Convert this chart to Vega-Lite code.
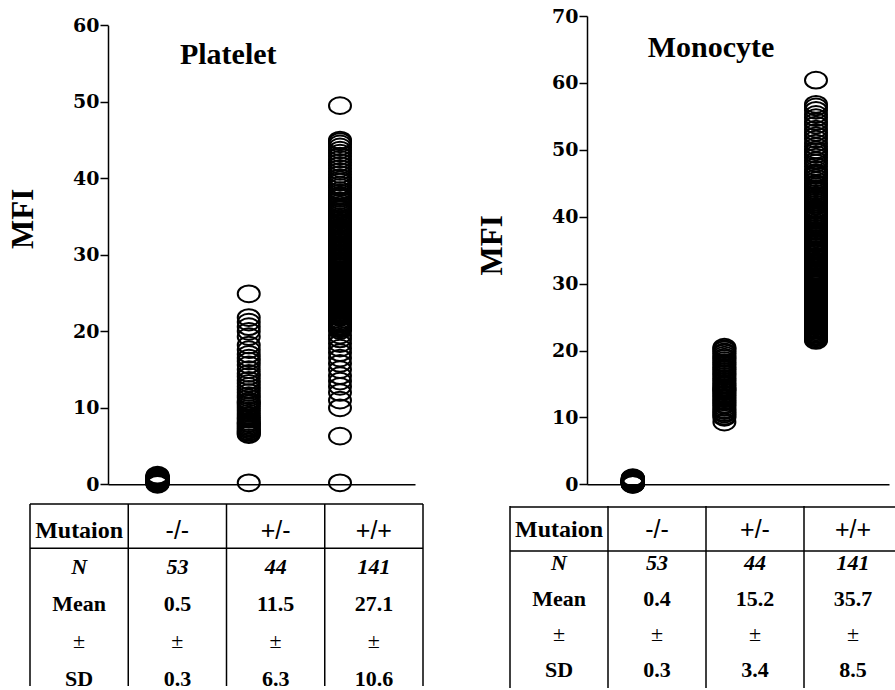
{
"$schema": "https://vega.github.io/schema/vega-lite/v6.json",
"background": "white",
"padding": {"left": 7, "top": 7, "right": 0, "bottom": 0},
"config": {"view": {"stroke": null}, "axis": {"grid": false, "labelColor": "black", "domainColor": "black", "tickColor": "black", "titleColor": "black", "labelOverlap": false}, "rule": {"color": "black", "strokeWidth": 1.5}, "text": {"color": "black"}},
"datasets": {
"plat": [
{"g":"-/-","v":0.0},{"g":"-/-","v":0.1},{"g":"-/-","v":0.1},{"g":"-/-","v":0.2},{"g":"-/-","v":0.2},{"g":"-/-","v":0.2},{"g":"-/-","v":0.3},{"g":"-/-","v":0.3},{"g":"-/-","v":0.3},{"g":"-/-","v":0.3},
{"g":"-/-","v":0.4},{"g":"-/-","v":0.4},{"g":"-/-","v":0.4},{"g":"-/-","v":0.4},{"g":"-/-","v":0.4},{"g":"-/-","v":0.5},{"g":"-/-","v":0.5},{"g":"-/-","v":0.5},{"g":"-/-","v":0.5},{"g":"-/-","v":0.5},
{"g":"-/-","v":0.5},{"g":"-/-","v":0.5},{"g":"-/-","v":0.6},{"g":"-/-","v":0.6},{"g":"-/-","v":0.6},{"g":"-/-","v":0.6},{"g":"-/-","v":0.6},{"g":"-/-","v":0.6},{"g":"-/-","v":0.7},{"g":"-/-","v":0.7},
{"g":"-/-","v":0.7},{"g":"-/-","v":0.7},{"g":"-/-","v":0.7},{"g":"-/-","v":0.8},{"g":"-/-","v":0.8},{"g":"-/-","v":0.8},{"g":"-/-","v":0.8},{"g":"-/-","v":0.9},{"g":"-/-","v":0.9},{"g":"-/-","v":0.9},
{"g":"-/-","v":1.0},{"g":"-/-","v":1.0},{"g":"-/-","v":1.1},{"g":"-/-","v":0.2},{"g":"-/-","v":0.3},{"g":"-/-","v":0.4},{"g":"-/-","v":0.5},{"g":"-/-","v":0.6},{"g":"-/-","v":0.7},{"g":"-/-","v":0.4},
{"g":"-/-","v":0.5},{"g":"-/-","v":0.6},{"g":"-/-","v":1.2},
{"g":"+/-","v":0.2},{"g":"+/-","v":24.9},{"g":"+/-","v":21.8},{"g":"+/-","v":21.2},{"g":"+/-","v":20.6},{"g":"+/-","v":20.0},{"g":"+/-","v":19.3},{"g":"+/-","v":18.2},{"g":"+/-","v":17.6},{"g":"+/-","v":17.0},
{"g":"+/-","v":16.5},{"g":"+/-","v":16.1},{"g":"+/-","v":15.6},{"g":"+/-","v":15.0},{"g":"+/-","v":14.5},{"g":"+/-","v":14.1},{"g":"+/-","v":13.6},{"g":"+/-","v":13.2},{"g":"+/-","v":12.8},{"g":"+/-","v":12.4},
{"g":"+/-","v":12.0},{"g":"+/-","v":11.6},{"g":"+/-","v":11.3},{"g":"+/-","v":10.9},{"g":"+/-","v":10.5},{"g":"+/-","v":10.2},{"g":"+/-","v":9.9},{"g":"+/-","v":9.6},{"g":"+/-","v":9.3},{"g":"+/-","v":9.0},
{"g":"+/-","v":8.7},{"g":"+/-","v":8.5},{"g":"+/-","v":8.2},{"g":"+/-","v":7.9},{"g":"+/-","v":7.7},{"g":"+/-","v":7.5},{"g":"+/-","v":7.3},{"g":"+/-","v":7.1},{"g":"+/-","v":6.9},{"g":"+/-","v":6.8},
{"g":"+/-","v":6.6},{"g":"+/-","v":6.5},{"g":"+/-","v":8.0},{"g":"+/-","v":10.7},
{"g":"+/+","v":0.2},{"g":"+/+","v":6.3},{"g":"+/+","v":49.5},
{"g":"+/+","v":10.0},{"g":"+/+","v":11.0},{"g":"+/+","v":12.0},{"g":"+/+","v":12.8},{"g":"+/+","v":13.5},{"g":"+/+","v":14.2},{"g":"+/+","v":15.0},{"g":"+/+","v":15.8},{"g":"+/+","v":16.5},{"g":"+/+","v":17.2},{"g":"+/+","v":17.8},{"g":"+/+","v":18.4},{"g":"+/+","v":19.0},{"g":"+/+","v":19.5},
{"g":"+/+","v":20.1},{"g":"+/+","v":20.3},{"g":"+/+","v":20.6},{"g":"+/+","v":20.9},{"g":"+/+","v":21.0},{"g":"+/+","v":21.3},{"g":"+/+","v":21.5},{"g":"+/+","v":21.8},{"g":"+/+","v":22.0},{"g":"+/+","v":22.1},
{"g":"+/+","v":22.4},{"g":"+/+","v":22.7},{"g":"+/+","v":22.9},{"g":"+/+","v":23.0},{"g":"+/+","v":23.2},{"g":"+/+","v":23.5},{"g":"+/+","v":23.6},{"g":"+/+","v":23.9},{"g":"+/+","v":24.0},{"g":"+/+","v":24.2},
{"g":"+/+","v":24.4},{"g":"+/+","v":24.5},{"g":"+/+","v":24.7},{"g":"+/+","v":24.9},{"g":"+/+","v":25.0},{"g":"+/+","v":20.4},{"g":"+/+","v":21.1},{"g":"+/+","v":21.9},{"g":"+/+","v":22.5},{"g":"+/+","v":23.3},
{"g":"+/+","v":23.8},{"g":"+/+","v":24.1},{"g":"+/+","v":24.6},{"g":"+/+","v":20.7},{"g":"+/+","v":22.2},
{"g":"+/+","v":25.2},{"g":"+/+","v":25.4},{"g":"+/+","v":25.5},{"g":"+/+","v":25.7},{"g":"+/+","v":25.9},{"g":"+/+","v":26.0},{"g":"+/+","v":26.2},{"g":"+/+","v":26.3},{"g":"+/+","v":26.5},{"g":"+/+","v":26.7},
{"g":"+/+","v":26.8},{"g":"+/+","v":27.0},{"g":"+/+","v":27.1},{"g":"+/+","v":27.3},{"g":"+/+","v":27.5},{"g":"+/+","v":27.6},{"g":"+/+","v":27.8},{"g":"+/+","v":28.0},{"g":"+/+","v":28.1},{"g":"+/+","v":28.3},
{"g":"+/+","v":28.5},{"g":"+/+","v":28.6},{"g":"+/+","v":28.8},{"g":"+/+","v":29.0},{"g":"+/+","v":29.1},{"g":"+/+","v":29.3},{"g":"+/+","v":29.5},{"g":"+/+","v":29.6},{"g":"+/+","v":29.8},{"g":"+/+","v":26.1},
{"g":"+/+","v":27.2},{"g":"+/+","v":28.4},
{"g":"+/+","v":30.0},{"g":"+/+","v":30.2},{"g":"+/+","v":30.5},{"g":"+/+","v":30.7},{"g":"+/+","v":31.0},{"g":"+/+","v":31.2},{"g":"+/+","v":31.4},{"g":"+/+","v":31.7},{"g":"+/+","v":31.9},{"g":"+/+","v":32.1},
{"g":"+/+","v":32.4},{"g":"+/+","v":32.6},{"g":"+/+","v":32.8},{"g":"+/+","v":33.0},{"g":"+/+","v":33.3},{"g":"+/+","v":33.5},{"g":"+/+","v":33.7},{"g":"+/+","v":34.0},{"g":"+/+","v":34.2},{"g":"+/+","v":34.5},
{"g":"+/+","v":34.8},{"g":"+/+","v":30.9},{"g":"+/+","v":32.2},{"g":"+/+","v":33.1},{"g":"+/+","v":34.6},
{"g":"+/+","v":35.0},{"g":"+/+","v":35.3},{"g":"+/+","v":35.6},{"g":"+/+","v":35.9},{"g":"+/+","v":36.2},{"g":"+/+","v":36.5},{"g":"+/+","v":36.8},{"g":"+/+","v":37.1},{"g":"+/+","v":37.4},{"g":"+/+","v":37.8},
{"g":"+/+","v":38.1},{"g":"+/+","v":38.4},{"g":"+/+","v":38.8},{"g":"+/+","v":39.1},{"g":"+/+","v":39.5},{"g":"+/+","v":39.8},{"g":"+/+","v":36.0},{"g":"+/+","v":37.6},
{"g":"+/+","v":40.1},{"g":"+/+","v":40.5},{"g":"+/+","v":40.9},{"g":"+/+","v":41.3},{"g":"+/+","v":41.7},{"g":"+/+","v":42.1},{"g":"+/+","v":42.5},{"g":"+/+","v":42.9},{"g":"+/+","v":43.3},{"g":"+/+","v":43.7},
{"g":"+/+","v":44.1},{"g":"+/+","v":44.5},{"g":"+/+","v":44.8},{"g":"+/+","v":45.0}
],
"mono": [
{"g":"-/-","v":0.0},{"g":"-/-","v":0.0},{"g":"-/-","v":0.1},{"g":"-/-","v":0.1},{"g":"-/-","v":0.1},{"g":"-/-","v":0.2},{"g":"-/-","v":0.2},{"g":"-/-","v":0.2},{"g":"-/-","v":0.2},{"g":"-/-","v":0.3},
{"g":"-/-","v":0.3},{"g":"-/-","v":0.3},{"g":"-/-","v":0.3},{"g":"-/-","v":0.3},{"g":"-/-","v":0.4},{"g":"-/-","v":0.4},{"g":"-/-","v":0.4},{"g":"-/-","v":0.4},{"g":"-/-","v":0.4},{"g":"-/-","v":0.4},
{"g":"-/-","v":0.4},{"g":"-/-","v":0.5},{"g":"-/-","v":0.5},{"g":"-/-","v":0.5},{"g":"-/-","v":0.5},{"g":"-/-","v":0.5},{"g":"-/-","v":0.5},{"g":"-/-","v":0.6},{"g":"-/-","v":0.6},{"g":"-/-","v":0.6},
{"g":"-/-","v":0.6},{"g":"-/-","v":0.7},{"g":"-/-","v":0.7},{"g":"-/-","v":0.7},{"g":"-/-","v":0.8},{"g":"-/-","v":0.8},{"g":"-/-","v":0.9},{"g":"-/-","v":0.9},{"g":"-/-","v":1.0},{"g":"-/-","v":0.1},
{"g":"-/-","v":0.2},{"g":"-/-","v":0.3},{"g":"-/-","v":0.4},{"g":"-/-","v":0.5},{"g":"-/-","v":0.6},{"g":"-/-","v":0.3},{"g":"-/-","v":0.4},{"g":"-/-","v":0.2},{"g":"-/-","v":0.5},{"g":"-/-","v":0.4},
{"g":"-/-","v":0.3},{"g":"-/-","v":0.6},{"g":"-/-","v":0.8},
{"g":"+/-","v":9.3},{"g":"+/-","v":10.0},{"g":"+/-","v":10.2},{"g":"+/-","v":10.5},{"g":"+/-","v":10.7},{"g":"+/-","v":11.0},{"g":"+/-","v":11.2},{"g":"+/-","v":11.5},{"g":"+/-","v":11.8},{"g":"+/-","v":12.0},
{"g":"+/-","v":12.3},{"g":"+/-","v":12.5},{"g":"+/-","v":12.8},{"g":"+/-","v":13.0},{"g":"+/-","v":13.3},{"g":"+/-","v":13.5},{"g":"+/-","v":13.8},{"g":"+/-","v":14.0},{"g":"+/-","v":14.3},{"g":"+/-","v":14.5},
{"g":"+/-","v":14.8},{"g":"+/-","v":15.0},{"g":"+/-","v":15.3},{"g":"+/-","v":15.6},{"g":"+/-","v":15.8},{"g":"+/-","v":16.1},{"g":"+/-","v":16.4},{"g":"+/-","v":16.6},{"g":"+/-","v":16.9},{"g":"+/-","v":17.2},
{"g":"+/-","v":17.4},{"g":"+/-","v":17.7},{"g":"+/-","v":18.0},{"g":"+/-","v":18.2},{"g":"+/-","v":18.5},{"g":"+/-","v":18.8},{"g":"+/-","v":19.0},{"g":"+/-","v":19.3},{"g":"+/-","v":19.6},{"g":"+/-","v":19.8},
{"g":"+/-","v":20.1},{"g":"+/-","v":20.3},{"g":"+/-","v":20.5},{"g":"+/-","v":14.2},
{"g":"+/+","v":60.4},
{"g":"+/+","v":21.5},{"g":"+/+","v":21.7},{"g":"+/+","v":21.9},{"g":"+/+","v":22.0},{"g":"+/+","v":22.2},{"g":"+/+","v":22.4},{"g":"+/+","v":22.6},{"g":"+/+","v":22.8},{"g":"+/+","v":23.0},{"g":"+/+","v":23.1},
{"g":"+/+","v":23.3},{"g":"+/+","v":23.5},{"g":"+/+","v":23.7},{"g":"+/+","v":23.9},{"g":"+/+","v":24.0},{"g":"+/+","v":24.2},{"g":"+/+","v":24.4},{"g":"+/+","v":24.6},{"g":"+/+","v":24.8},{"g":"+/+","v":25.0},
{"g":"+/+","v":22.1},{"g":"+/+","v":23.6},
{"g":"+/+","v":25.1},{"g":"+/+","v":25.3},{"g":"+/+","v":25.5},{"g":"+/+","v":25.7},{"g":"+/+","v":25.9},{"g":"+/+","v":26.1},{"g":"+/+","v":26.3},{"g":"+/+","v":26.5},{"g":"+/+","v":26.7},{"g":"+/+","v":26.9},
{"g":"+/+","v":27.1},{"g":"+/+","v":27.3},{"g":"+/+","v":27.5},{"g":"+/+","v":27.7},{"g":"+/+","v":27.9},{"g":"+/+","v":28.1},{"g":"+/+","v":28.3},{"g":"+/+","v":28.5},{"g":"+/+","v":28.7},{"g":"+/+","v":28.9},
{"g":"+/+","v":29.1},{"g":"+/+","v":29.3},{"g":"+/+","v":29.5},{"g":"+/+","v":29.8},{"g":"+/+","v":26.0},{"g":"+/+","v":28.0},
{"g":"+/+","v":30.0},{"g":"+/+","v":30.2},{"g":"+/+","v":30.4},{"g":"+/+","v":30.7},{"g":"+/+","v":30.9},{"g":"+/+","v":31.1},{"g":"+/+","v":31.3},{"g":"+/+","v":31.6},{"g":"+/+","v":31.8},{"g":"+/+","v":32.0},
{"g":"+/+","v":32.3},{"g":"+/+","v":32.5},{"g":"+/+","v":32.7},{"g":"+/+","v":33.0},{"g":"+/+","v":33.2},{"g":"+/+","v":33.4},{"g":"+/+","v":33.7},{"g":"+/+","v":33.9},{"g":"+/+","v":34.1},{"g":"+/+","v":34.4},
{"g":"+/+","v":34.6},{"g":"+/+","v":34.9},{"g":"+/+","v":31.5},{"g":"+/+","v":32.9},{"g":"+/+","v":34.0},
{"g":"+/+","v":35.1},{"g":"+/+","v":35.4},{"g":"+/+","v":35.6},{"g":"+/+","v":35.9},{"g":"+/+","v":36.2},{"g":"+/+","v":36.4},{"g":"+/+","v":36.7},{"g":"+/+","v":37.0},{"g":"+/+","v":37.2},{"g":"+/+","v":37.5},
{"g":"+/+","v":37.8},{"g":"+/+","v":38.0},{"g":"+/+","v":38.3},{"g":"+/+","v":38.6},{"g":"+/+","v":38.9},{"g":"+/+","v":39.1},{"g":"+/+","v":39.4},{"g":"+/+","v":39.7},{"g":"+/+","v":40.0},{"g":"+/+","v":36.0},
{"g":"+/+","v":37.4},{"g":"+/+","v":38.8},
{"g":"+/+","v":40.3},{"g":"+/+","v":40.6},{"g":"+/+","v":40.9},{"g":"+/+","v":41.2},{"g":"+/+","v":41.6},{"g":"+/+","v":41.9},{"g":"+/+","v":42.2},{"g":"+/+","v":42.5},{"g":"+/+","v":42.9},{"g":"+/+","v":43.2},
{"g":"+/+","v":43.5},{"g":"+/+","v":43.8},{"g":"+/+","v":44.2},{"g":"+/+","v":44.5},{"g":"+/+","v":44.8},{"g":"+/+","v":41.0},{"g":"+/+","v":42.7},{"g":"+/+","v":43.9},{"g":"+/+","v":45.0},
{"g":"+/+","v":45.4},{"g":"+/+","v":45.8},{"g":"+/+","v":46.2},{"g":"+/+","v":46.6},{"g":"+/+","v":47.0},{"g":"+/+","v":47.5},{"g":"+/+","v":48.0},{"g":"+/+","v":48.4},{"g":"+/+","v":48.9},{"g":"+/+","v":49.3},
{"g":"+/+","v":49.7},{"g":"+/+","v":46.4},{"g":"+/+","v":50.0},
{"g":"+/+","v":50.5},{"g":"+/+","v":51.0},{"g":"+/+","v":51.6},{"g":"+/+","v":52.1},{"g":"+/+","v":52.6},{"g":"+/+","v":53.1},{"g":"+/+","v":53.7},{"g":"+/+","v":54.2},{"g":"+/+","v":54.8},{"g":"+/+","v":55.3},
{"g":"+/+","v":55.9},{"g":"+/+","v":56.4},{"g":"+/+","v":56.8}
],
"tl": [
{"r":"Mutaion","c":"Mutaion","t":"Mutaion"},{"r":"Mutaion","c":"-/-","t":"-/-"},{"r":"Mutaion","c":"+/-","t":"+/-"},{"r":"Mutaion","c":"+/+","t":"+/+"},
{"r":"N","c":"Mutaion","t":"N"},{"r":"N","c":"-/-","t":"53"},{"r":"N","c":"+/-","t":"44"},{"r":"N","c":"+/+","t":"141"},
{"r":"Mean","c":"Mutaion","t":"Mean"},{"r":"Mean","c":"-/-","t":"0.5"},{"r":"Mean","c":"+/-","t":"11.5"},{"r":"Mean","c":"+/+","t":"27.1"},
{"r":"±","c":"Mutaion","t":"±"},{"r":"±","c":"-/-","t":"±"},{"r":"±","c":"+/-","t":"±"},{"r":"±","c":"+/+","t":"±"},
{"r":"SD","c":"Mutaion","t":"SD"},{"r":"SD","c":"-/-","t":"0.3"},{"r":"SD","c":"+/-","t":"6.3"},{"r":"SD","c":"+/+","t":"10.6"}
],
"tr": [
{"r":"Mutaion","c":"Mutaion","t":"Mutaion"},{"r":"Mutaion","c":"-/-","t":"-/-"},{"r":"Mutaion","c":"+/-","t":"+/-"},{"r":"Mutaion","c":"+/+","t":"+/+"},
{"r":"N","c":"Mutaion","t":"N"},{"r":"N","c":"-/-","t":"53"},{"r":"N","c":"+/-","t":"44"},{"r":"N","c":"+/+","t":"141"},
{"r":"Mean","c":"Mutaion","t":"Mean"},{"r":"Mean","c":"-/-","t":"0.4"},{"r":"Mean","c":"+/-","t":"15.2"},{"r":"Mean","c":"+/+","t":"35.7"},
{"r":"±","c":"Mutaion","t":"±"},{"r":"±","c":"-/-","t":"±"},{"r":"±","c":"+/-","t":"±"},{"r":"±","c":"+/+","t":"±"},
{"r":"SD","c":"Mutaion","t":"SD"},{"r":"SD","c":"-/-","t":"0.3"},{"r":"SD","c":"+/-","t":"3.4"},{"r":"SD","c":"+/+","t":"8.5"}
]
},
"spacing": 52,
"hconcat": [
{"spacing": 6, "vconcat": [
 {"width": 393, "height": 468.3,
  "layer": [
   {"data": {"name": "plat"},
    "mark": {"type": "point", "shape": "M -1 0 C -1 -0.42 -0.552 -0.76 0 -0.76 C 0.552 -0.76 1 -0.42 1 0 C 1 0.42 0.552 0.76 0 0.76 C -0.552 0.76 -1 0.42 -1 0 Z", "size": 484, "filled": false, "stroke": "black", "strokeWidth": 2, "opacity": 1},
    "encoding": {
     "x": {"field": "g", "type": "nominal", "scale": {"type": "point", "domain": ["-/-", "+/-", "+/+"], "range": [78, 385], "padding": 0.6822, "align": 0.3976}, "axis": {"orient": "bottom", "domain": true, "domainWidth": 1.5, "ticks": false, "labels": false, "title": null}},
     "y": {"field": "v", "type": "quantitative", "scale": {"domain": [0, 60], "range": [468.3, 9.3], "nice": false}, "axis": {"orient": "left", "offset": -78, "values": [0,5,10,15,20,25,30,35,40,45,50,55,60], "labelExpr": "datum.value % 10 === 0 ? datum.label : ''", "domainWidth": 1.5, "tickWidth": 1.5, "tickSize": {"condition": {"test": "datum.value % 10 === 0", "value": 8}, "value": 4}, "labelFont": "DejaVu Serif", "labelFontWeight": "bold", "labelFontSize": 19, "labelPadding": 1, "title": "MFI", "titleFont": "Liberation Serif", "titleFontSize": 31, "titleFontWeight": "bold", "titlePadding": 33, "titleY": 202.3}}
    }},
   {"data": {"values": [{}]},
    "mark": {"type": "text", "text": "Platelet", "font": "Liberation Serif", "fontWeight": "bold", "fontSize": 30, "baseline": "alphabetic", "align": "center", "dx": -20.5},
    "encoding": {"x": {"datum": "+/-", "type": "nominal"}, "y": {"datum": 55.0, "type": "quantitative"}}}
  ]},
 {"width": 393, "height": 182, "data": {"name": "tl"},
  "layer": [
   {"transform": [{"filter": "datum.r === 'Mutaion' && datum.c === 'Mutaion'"}],
    "mark": {"type": "text", "font": "Liberation Serif", "fontSize": 24, "fontWeight": "bold", "baseline": "middle", "dy": 1.5},
    "encoding": {
     "x": {"field": "c", "type": "nominal", "bandPosition": 0.5, "scale": {"type": "band", "domain": ["Mutaion", "-/-", "+/-", "+/+"], "paddingInner": 0, "paddingOuter": 0}, "axis": null},
     "y": {"field": "r", "type": "nominal", "bandPosition": 0.5, "scale": {"type": "band", "domain": ["Mutaion", "N", "Mean", "±", "SD"], "range": [7.1, 193.1], "paddingInner": 0, "paddingOuter": 0}, "axis": null},
     "text": {"field": "t"}}},
   {"transform": [{"filter": "datum.r === 'Mutaion' && datum.c !== 'Mutaion'"}],
    "mark": {"type": "text", "font": "Liberation Sans", "fontSize": 25, "baseline": "middle", "dy": 1.5},
    "encoding": {"x": {"field": "c", "type": "nominal", "bandPosition": 0.5}, "y": {"field": "r", "type": "nominal", "bandPosition": 0.5}, "text": {"field": "t"}}},
   {"transform": [{"filter": "datum.r === 'N'"}],
    "mark": {"type": "text", "font": "Liberation Serif", "fontSize": 22, "fontWeight": "bold", "fontStyle": "italic", "baseline": "middle"},
    "encoding": {"x": {"field": "c", "type": "nominal", "bandPosition": 0.5}, "y": {"field": "r", "type": "nominal", "bandPosition": 0.5}, "text": {"field": "t"}}},
   {"transform": [{"filter": "datum.r === 'Mean' || datum.r === 'SD'"}],
    "mark": {"type": "text", "font": "Liberation Serif", "fontSize": 22, "fontWeight": "bold", "baseline": "middle"},
    "encoding": {"x": {"field": "c", "type": "nominal", "bandPosition": 0.5}, "y": {"field": "r", "type": "nominal", "bandPosition": 0.5}, "text": {"field": "t"}}},
   {"transform": [{"filter": "datum.r === '±'"}],
    "mark": {"type": "text", "font": "Liberation Serif", "fontSize": 22, "baseline": "middle"},
    "encoding": {"x": {"field": "c", "type": "nominal", "bandPosition": 0.5}, "y": {"field": "r", "type": "nominal", "bandPosition": 0.5}, "text": {"field": "t"}}},
   {"transform": [{"filter": "datum.r === 'Mutaion'"}],
    "mark": {"type": "rule"},
    "encoding": {"x": {"field": "c", "type": "nominal", "bandPosition": 0}}},
   {"data": {"values": [{}]}, "mark": {"type": "rule"},
    "encoding": {"x": {"datum": "+/+", "type": "nominal", "bandPosition": 1}}},
   {"data": {"values": [{}]}, "mark": {"type": "rule", "yOffset": -7.1},
    "encoding": {"y": {"datum": "Mutaion", "type": "nominal", "bandPosition": 0}}},
   {"data": {"values": [{}]}, "mark": {"type": "rule"},
    "encoding": {"y": {"datum": "Mutaion", "type": "nominal", "bandPosition": 1}}}
  ]}
]},
{"spacing": 8, "vconcat": [
 {"width": 386, "height": 468.3,
  "layer": [
   {"data": {"name": "mono"},
    "mark": {"type": "point", "shape": "M -1 0 C -1 -0.42 -0.552 -0.76 0 -0.76 C 0.552 -0.76 1 -0.42 1 0 C 1 0.42 0.552 0.76 0 0.76 C -0.552 0.76 -1 0.42 -1 0 Z", "size": 484, "filled": false, "stroke": "black", "strokeWidth": 2, "opacity": 1},
    "encoding": {
     "x": {"field": "g", "type": "nominal", "scale": {"type": "point", "domain": ["-/-", "+/-", "+/+"], "range": [77, 379], "padding": 0.6485, "align": 0.3855}, "axis": {"orient": "bottom", "domain": true, "domainWidth": 1.5, "ticks": false, "labels": false, "title": null}},
     "y": {"field": "v", "type": "quantitative", "scale": {"domain": [0, 70], "range": [468.3, 0], "nice": false}, "axis": {"orient": "left", "offset": -77, "values": [0,5,10,15,20,25,30,35,40,45,50,55,60,65,70], "labelExpr": "datum.value % 10 === 0 ? datum.label : ''", "domainWidth": 1.5, "tickWidth": 1.5, "tickSize": {"condition": {"test": "datum.value % 10 === 0", "value": 8}, "value": 4}, "labelFont": "DejaVu Serif", "labelFontWeight": "bold", "labelFontSize": 19, "labelPadding": 1, "title": "MFI", "titleFont": "Liberation Serif", "titleFontSize": 31, "titleFontWeight": "bold", "titlePadding": 42.6, "titleY": 228.8}}
    }},
   {"data": {"values": [{}]},
    "mark": {"type": "text", "text": "Monocyte", "font": "Liberation Serif", "fontWeight": "bold", "fontSize": 30, "baseline": "alphabetic", "align": "center", "dx": -13.3},
    "encoding": {"x": {"datum": "+/-", "type": "nominal"}, "y": {"datum": 63.9, "type": "quantitative"}}}
  ]},
 {"width": 386, "height": 182, "data": {"name": "tr"},
  "layer": [
   {"transform": [{"filter": "datum.r === 'Mutaion' && datum.c === 'Mutaion'"}],
    "mark": {"type": "text", "font": "Liberation Serif", "fontSize": 24, "fontWeight": "bold", "baseline": "middle", "dy": 3},
    "encoding": {
     "x": {"field": "c", "type": "nominal", "bandPosition": 0.5, "scale": {"type": "band", "domain": ["Mutaion", "-/-", "+/-", "+/+"], "range": [0, 392], "paddingInner": 0, "paddingOuter": 0}, "axis": null},
     "y": {"field": "r", "type": "nominal", "bandPosition": 0.5, "scale": {"type": "band", "domain": ["Mutaion", "N", "Mean", "±", "SD"], "range": [3.0, 182.0], "paddingInner": 0, "paddingOuter": 0}, "axis": null},
     "text": {"field": "t"}}},
   {"transform": [{"filter": "datum.r === 'Mutaion' && datum.c !== 'Mutaion'"}],
    "mark": {"type": "text", "font": "Liberation Sans", "fontSize": 25, "baseline": "middle", "dy": 3},
    "encoding": {"x": {"field": "c", "type": "nominal", "bandPosition": 0.5}, "y": {"field": "r", "type": "nominal", "bandPosition": 0.5}, "text": {"field": "t"}}},
   {"transform": [{"filter": "datum.r === 'N'"}],
    "mark": {"type": "text", "font": "Liberation Serif", "fontSize": 22, "fontWeight": "bold", "fontStyle": "italic", "baseline": "middle"},
    "encoding": {"x": {"field": "c", "type": "nominal", "bandPosition": 0.5}, "y": {"field": "r", "type": "nominal", "bandPosition": 0.5}, "text": {"field": "t"}}},
   {"transform": [{"filter": "datum.r === 'Mean' || datum.r === 'SD'"}],
    "mark": {"type": "text", "font": "Liberation Serif", "fontSize": 22, "fontWeight": "bold", "baseline": "middle"},
    "encoding": {"x": {"field": "c", "type": "nominal", "bandPosition": 0.5}, "y": {"field": "r", "type": "nominal", "bandPosition": 0.5}, "text": {"field": "t"}}},
   {"transform": [{"filter": "datum.r === '±'"}],
    "mark": {"type": "text", "font": "Liberation Serif", "fontSize": 22, "baseline": "middle"},
    "encoding": {"x": {"field": "c", "type": "nominal", "bandPosition": 0.5}, "y": {"field": "r", "type": "nominal", "bandPosition": 0.5}, "text": {"field": "t"}}},
   {"transform": [{"filter": "datum.r === 'Mutaion'"}],
    "mark": {"type": "rule"},
    "encoding": {"x": {"field": "c", "type": "nominal", "bandPosition": 0}}},
   {"data": {"values": [{}]}, "mark": {"type": "rule", "yOffset": -2},
    "encoding": {"y": {"datum": "Mutaion", "type": "nominal", "bandPosition": 0}}},
   {"data": {"values": [{}]}, "mark": {"type": "rule", "yOffset": 6.2},
    "encoding": {"y": {"datum": "Mutaion", "type": "nominal", "bandPosition": 1}}}
  ]}
]}
]
}
